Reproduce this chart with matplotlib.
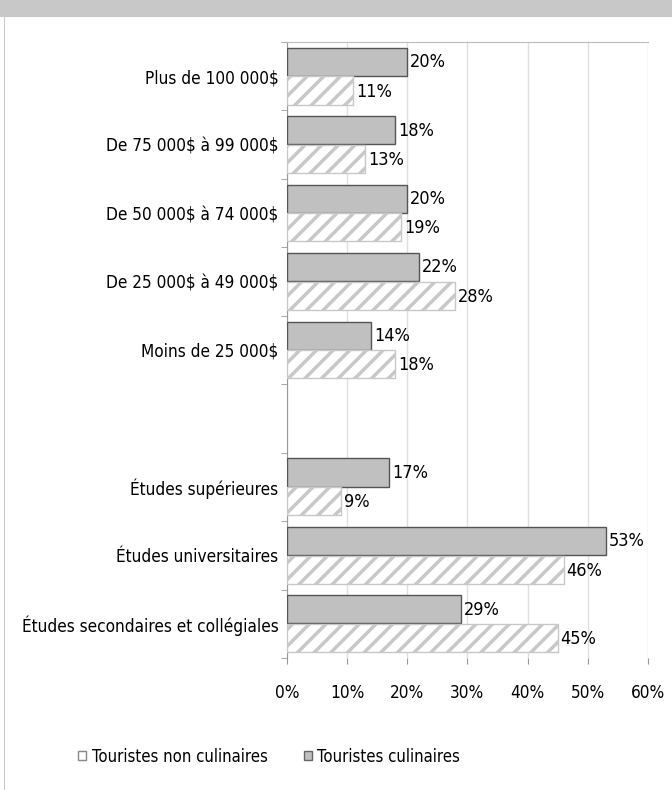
import numpy as np
import matplotlib
matplotlib.use("Agg")
import matplotlib.pyplot as plt
from matplotlib.patches import Rectangle, Patch

plt.rcParams['font.family'] = ['DejaVu Sans']
plt.rcParams['font.stretch'] = 'condensed'
plt.rcParams['hatch.linewidth'] = 2.5
plt.rcParams['hatch.color'] = '#cccccc'

# categories top to bottom; empty string marks the blank slot
categories = ["Plus de 100 000\\$", "De 75 000\\$ à 99 000\\$", "De 50 000\\$ à 74 000\\$",
              "De 25 000\\$ à 49 000\\$", "Moins de 25 000\\$", "",
              "Études supérieures", "Études universitaires",
              "Études secondaires et collégiales"]
culinaires = [20, 18, 20, 22, 14, None, 17, 53, 29]
non_culinaires = [11, 13, 19, 28, 18, None, 9, 46, 45]
xticks = [0, 10, 20, 30, 40, 50, 60]

fs = 12.3

fig = plt.figure(figsize=(6.72, 7.9), dpi=100)
# grey band on top and thin grey line on the left
fig.add_artist(Rectangle((0, 0.978), 1, 0.022, transform=fig.transFigure,
                         facecolor="#c8c8c8", edgecolor="none"))
fig.add_artist(Rectangle((0.006, 0), 0.002, 0.978, transform=fig.transFigure,
                         facecolor="#c8c8c8", edgecolor="none"))

ax = fig.add_axes([0.427, 0.167, 0.537, 0.780])
n = len(categories)
ax.set_ylim(n, 0)
ax.set_xlim(0, 60)

h = 0.41
for i in range(n):
    if culinaires[i] is None:
        continue
    ax.barh(i + 0.5 - h / 2 - 0.005, culinaires[i], height=h, color="#c0c0c0",
            edgecolor="#555555", linewidth=1.0, zorder=3)
    ax.barh(i + 0.5 + h / 2 + 0.005, non_culinaires[i], height=h, color="white",
            edgecolor="#c8c8c8", hatch="//", linewidth=1.0, zorder=3)
    ax.text(culinaires[i] + 0.5, i + 0.5 - h / 2, f"{culinaires[i]}%",
            va="center", ha="left", fontsize=13, zorder=4)
    ax.text(non_culinaires[i] + 0.5, i + 0.5 + h / 2 + 0.02, f"{non_culinaires[i]}%",
            va="center", ha="left", fontsize=13, zorder=4)

ax.set_yticks(np.arange(n) + 0.5)
ax.set_yticklabels(categories, fontsize=fs)
ax.set_yticks(np.arange(n + 1), minor=True)
ax.tick_params(axis="y", which="major", length=0, pad=6)
ax.tick_params(axis="y", which="minor", length=4, color="#999999")

ax.set_xticks(xticks)
ax.set_xticklabels([f"{v}%" for v in xticks], fontsize=fs)
ax.tick_params(axis="x", length=4.5, color="#999999", pad=14)
ax.xaxis.grid(True, color="#e0e0e0", linewidth=1, zorder=0)

for s in ["right", "bottom"]:
    ax.spines[s].set_visible(False)
ax.spines["top"].set_color("#bbbbbb")
ax.spines["left"].set_color("#999999")

# legend
handles = [Patch(facecolor="white", edgecolor="#888888", label="Touristes non culinaires"),
           Patch(facecolor="#c0c0c0", edgecolor="#666666", label="Touristes culinaires")]
fig.legend(handles=handles, loc="center left", bbox_to_anchor=(0.094, 0.042),
           ncol=2, frameon=False, handlelength=0.45, handleheight=0.45,
           handletextpad=0.35, columnspacing=2.2, prop={"size": 12, "stretch": "condensed"})

fig.savefig("out.png", dpi=100)
